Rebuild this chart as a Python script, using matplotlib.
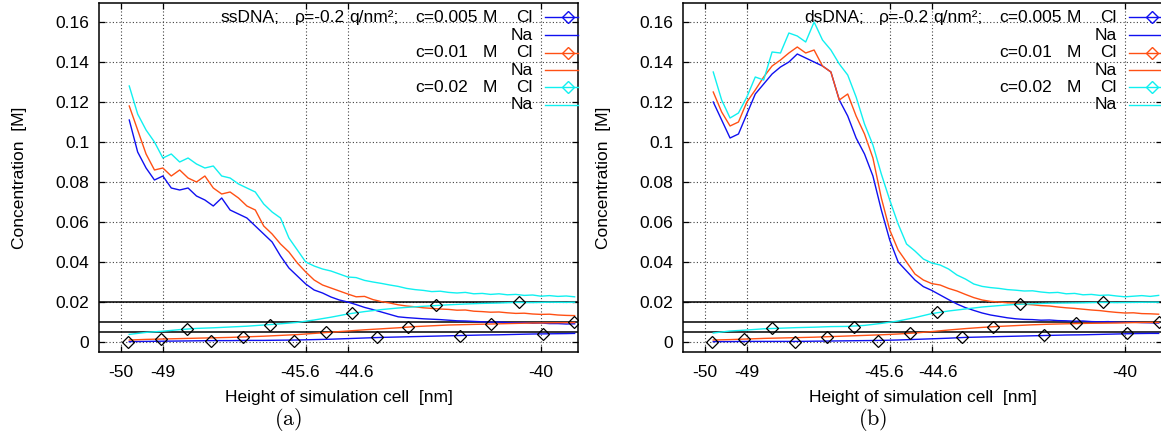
import numpy as np
import matplotlib.pyplot as plt
from matplotlib.transforms import ScaledTranslation

plt.rcParams['font.family'] = ['Liberation Sans', 'DejaVu Sans']
plt.rcParams['mathtext.fontset'] = 'cm'

# sampling heights of the Na profiles [nm]
x_na = np.round(np.arange(-49.8, -39.15, 0.2), 2)
# coarser sampling of the Cl profiles [nm]
x_cl = [-49.8, -49.4, -49.0, -48.6, -48.2, -47.8, -47.4, -47.0, -46.6, -46.2,
        -45.8, -45.4, -45.0, -44.6, -44.2, -43.8, -43.4, -43.0, -42.6, -42.2,
        -41.8, -41.4, -41.0, -40.6, -40.2, -39.8, -39.4, -39.2]

concs = ['0.005', '0.01', '0.02']
bulk = [0.005, 0.01, 0.02]
xticks = [-50, -49, -45.6, -44.6, -40]
yticks = [0, 0.02, 0.04, 0.06, 0.08, 0.1, 0.12, 0.14, 0.16]

# ---- ssDNA ----
ss_na_005 = [0.111, 0.095, 0.087, 0.081, 0.083, 0.077, 0.076, 0.077, 0.073, 0.071,
             0.068, 0.072, 0.066, 0.064, 0.062, 0.058, 0.054, 0.050, 0.043, 0.037,
             0.033, 0.029, 0.026, 0.0245, 0.0225, 0.021, 0.0200, 0.0187, 0.0173, 0.0162,
             0.0150, 0.0138, 0.0126, 0.0122, 0.0119, 0.0116, 0.0114, 0.0112, 0.0109, 0.0106,
             0.0105, 0.0103, 0.0101, 0.0099, 0.0100, 0.0097, 0.0096, 0.0097, 0.0094, 0.0095,
             0.0092, 0.0092, 0.0090, 0.0091]
ss_na_01 = [0.118, 0.106, 0.094, 0.086, 0.087, 0.083, 0.086, 0.082, 0.080, 0.083,
            0.077, 0.074, 0.075, 0.072, 0.068, 0.066, 0.058, 0.054, 0.049, 0.045,
            0.0395, 0.035, 0.031, 0.0285, 0.027, 0.0255, 0.024, 0.0226, 0.0228, 0.0212,
            0.0202, 0.0195, 0.0186, 0.0180, 0.0176, 0.0171, 0.0168, 0.0165, 0.0163, 0.0159,
            0.0160, 0.0154, 0.0152, 0.0149, 0.0150, 0.0146, 0.0143, 0.0144, 0.0140, 0.0138,
            0.0139, 0.0135, 0.0133, 0.0132]
ss_na_02 = [0.128, 0.114, 0.106, 0.100, 0.092, 0.094, 0.090, 0.092, 0.089, 0.087,
            0.088, 0.083, 0.082, 0.079, 0.077, 0.075, 0.069, 0.065, 0.062, 0.052,
            0.046, 0.040, 0.038, 0.0365, 0.0355, 0.034, 0.0325, 0.0322, 0.0308, 0.0300,
            0.0293, 0.0285, 0.0278, 0.0268, 0.0262, 0.0258, 0.0252, 0.0254, 0.0248, 0.0245,
            0.0248, 0.0241, 0.0243, 0.0238, 0.0241, 0.0236, 0.0238, 0.0233, 0.0235, 0.0229,
            0.0232, 0.0228, 0.0230, 0.0226]
ss_cl_005 = [0.0002, 0.0003, 0.0004, 0.0005, 0.0006, 0.0007, 0.0007, 0.0008, 0.0008, 0.0009,
             0.0010, 0.0012, 0.0014, 0.0017, 0.0020, 0.0023, 0.0025, 0.0027, 0.0029, 0.0031,
             0.0033, 0.0035, 0.0036, 0.0038, 0.0040, 0.0041, 0.0042, 0.0043]
ss_cl_01 = [0.0010, 0.0013, 0.0015, 0.0017, 0.0019, 0.0021, 0.0023, 0.0026, 0.0029, 0.0033,
            0.0037, 0.0043, 0.0049, 0.0055, 0.0061, 0.0066, 0.0071, 0.0077, 0.0081, 0.0085,
            0.0087, 0.0089, 0.0091, 0.0093, 0.0095, 0.0096, 0.0097, 0.0097]
ss_cl_02 = [0.0038, 0.0048, 0.0054, 0.0062, 0.0068, 0.0071, 0.0075, 0.0079, 0.0085, 0.0091,
            0.0098, 0.0110, 0.0124, 0.0140, 0.0152, 0.0162, 0.0170, 0.0176, 0.0181, 0.0186,
            0.0190, 0.0193, 0.0195, 0.0198, 0.0197, 0.0199, 0.0198, 0.0199]
ss_mk_x = [[-49.84, -47.86, -45.88, -43.9, -41.94, -39.96],
           [-49.05, -47.1, -45.12, -43.16, -41.2, -39.21],
           [-48.43, -46.46, -44.5, -42.51, -40.53]]
ss_mk_y = [[0.0, 0.0007, 0.0007, 0.0023, 0.0032, 0.0040],
           [0.0015, 0.0025, 0.0048, 0.0077, 0.0090, 0.0098],
           [0.0065, 0.0087, 0.0143, 0.0183, 0.0200]]

# ---- dsDNA ----
ds_na_005 = [0.120, 0.111, 0.102, 0.104, 0.114, 0.124, 0.129, 0.134, 0.1375, 0.140,
             0.144, 0.142, 0.140, 0.138, 0.135, 0.121, 0.113, 0.102, 0.094, 0.083,
             0.066, 0.051, 0.040, 0.0355, 0.031, 0.0277, 0.0258, 0.0235, 0.0212, 0.0190,
             0.0172, 0.0158, 0.0145, 0.0135, 0.0128, 0.0121, 0.0116, 0.0113, 0.0112, 0.0109,
             0.0110, 0.0107, 0.0106, 0.0104, 0.0105, 0.0102, 0.0101, 0.0102, 0.0099, 0.0098,
             0.0099, 0.0097, 0.0096, 0.0095]
ds_na_01 = [0.125, 0.115, 0.108, 0.110, 0.120, 0.126, 0.1325, 0.138, 0.141, 0.1445,
            0.1475, 0.1445, 0.146, 0.138, 0.135, 0.121, 0.124, 0.113, 0.104, 0.092,
            0.072, 0.056, 0.046, 0.040, 0.034, 0.031, 0.0292, 0.0285, 0.0268, 0.0255,
            0.0238, 0.0222, 0.0210, 0.0203, 0.0200, 0.0196, 0.0195, 0.0189, 0.0186, 0.0182,
            0.0180, 0.0175, 0.0171, 0.0168, 0.0164, 0.0160, 0.0157, 0.0152, 0.0148, 0.0145,
            0.0146, 0.0142, 0.0141, 0.0139]
ds_na_02 = [0.135, 0.121, 0.112, 0.1145, 0.1225, 0.1325, 0.131, 0.145, 0.1445, 0.1545,
            0.153, 0.150, 0.160, 0.151, 0.146, 0.139, 0.1335, 0.1225, 0.109, 0.0985,
            0.084, 0.071, 0.059, 0.049, 0.0455, 0.0415, 0.0395, 0.0385, 0.0365, 0.0335,
            0.0315, 0.0290, 0.0278, 0.0272, 0.0268, 0.0262, 0.0259, 0.0255, 0.0256, 0.0250,
            0.0246, 0.0248, 0.0241, 0.0243, 0.0236, 0.0238, 0.0233, 0.0235, 0.0230, 0.0226,
            0.0229, 0.0232, 0.0228, 0.0233]
ds_cl_005 = [0.0002, 0.0002, 0.0003, 0.0003, 0.0003, 0.0003, 0.0004, 0.0005, 0.0006, 0.0007,
             0.0008, 0.0010, 0.0013, 0.0016, 0.0019, 0.0023, 0.0025, 0.0027, 0.0029, 0.0031,
             0.0033, 0.0035, 0.0036, 0.0038, 0.0040, 0.0042, 0.0043, 0.0043]
ds_cl_01 = [0.0010, 0.0012, 0.0015, 0.0018, 0.0020, 0.0022, 0.0024, 0.0027, 0.0030, 0.0033,
            0.0036, 0.0040, 0.0045, 0.0052, 0.0060, 0.0067, 0.0073, 0.0078, 0.0082, 0.0086,
            0.0089, 0.0091, 0.0093, 0.0094, 0.0095, 0.0097, 0.0098, 0.0098]
ds_cl_02 = [0.0045, 0.0055, 0.0060, 0.0066, 0.0069, 0.0072, 0.0074, 0.0077, 0.0078, 0.0083,
            0.0093, 0.0105, 0.0122, 0.0142, 0.0155, 0.0165, 0.0175, 0.0182, 0.0188, 0.0191,
            0.0194, 0.0195, 0.0196, 0.0198, 0.0197, 0.0198, 0.0199, 0.0199]
ds_mk_x = [[-49.83, -47.86, -45.89, -43.89, -41.93, -39.95],
           [-49.07, -47.1, -45.11, -43.14, -41.17, -39.2],
           [-48.4, -46.45, -44.48, -42.5, -40.52]]
ds_mk_y = [[0.0, 0.0002, 0.0007, 0.0023, 0.0035, 0.0043],
           [0.0015, 0.0027, 0.0043, 0.0077, 0.0093, 0.0098],
           [0.0068, 0.0077, 0.0148, 0.0190, 0.0198]]

colors = ['#1010f0', '#ff5014', '#10f0f0']
FS = 12.5


def draw_panel(ax, name, na, cl, mk_x, mk_y, tag):
    for b in bulk:
        ax.axhline(b, color='black', lw=1.1, zorder=2)
    for i in range(3):
        ax.plot(x_cl, cl[i], color=colors[i], lw=1.0, zorder=3)
        ax.plot(x_na, na[i], color=colors[i], lw=1.0, zorder=3)
    for i in range(3):
        ax.plot(mk_x[i], mk_y[i], ls='none', marker='D', ms=6, mfc='none',
                mec='black', mew=0.9, zorder=4)

    ax.set_xlim(-50.52, -39.12)
    ax.set_ylim(-0.005, 0.1695)
    ax.set_xticks(xticks)
    ax.set_xticklabels(['-50', '-49', '-45.6', '-44.6', '-40'])
    ax.set_yticks(yticks)
    ax.set_yticklabels(['0', '0.02', '0.04', '0.06', '0.08', '0.1', '0.12', '0.14', '0.16'])
    ax.tick_params(direction='in', length=4.5, width=0.9, top=True, right=True,
                   labelsize=FS)
    ax.tick_params(axis='x', pad=9)
    ax.tick_params(axis='y', pad=7)
    # the two close labels sit a little apart, as in the original
    labels = ax.get_xticklabels()
    labels[2].set_transform(labels[2].get_transform()
                            + ScaledTranslation(-6 / 100, 0, fig.dpi_scale_trans))
    labels[3].set_transform(labels[3].get_transform()
                            + ScaledTranslation(6 / 100, 0, fig.dpi_scale_trans))
    ax.grid(True, color='0.25', lw=0.8, ls=(0, (1, 2)))
    ax.set_axisbelow(True)
    for s in ax.spines.values():
        s.set_linewidth(1.1)

    ax.set_xlabel('Height of simulation cell  [nm]', fontsize=FS, va='center')
    ax.xaxis.set_label_coords(0.5, -0.129)
    ax.set_ylabel('Concentration  [M]', fontsize=FS, va='center', ha='center')
    ax.yaxis.set_label_coords(-0.165, 0.5)

    # key, gnuplot style
    rows = [0.9585, 0.908, 0.858, 0.808, 0.758, 0.708]
    tr = ax.transAxes
    ax.text(0.2526, rows[0], name + ';', transform=tr, fontsize=FS, va='center')
    ax.text(0.409, rows[0], 'ρ=-0.2', transform=tr, fontsize=FS, va='center')
    ax.text(0.522, rows[0], 'q/nm²;', transform=tr, fontsize=FS, va='center')
    for i in range(3):
        yc, yn = rows[2 * i], rows[2 * i + 1]
        ax.text(0.66, yc, 'c=' + concs[i], transform=tr, fontsize=FS, va='center')
        ax.text(0.80, yc, 'M', transform=tr, fontsize=FS, va='center')
        ax.text(0.906, yc, 'Cl', transform=tr, fontsize=FS, va='center', ha='right')
        ax.text(0.906, yn, 'Na', transform=tr, fontsize=FS, va='center', ha='right')
        ax.plot([0.931, 1.0], [yc, yc], color=colors[i], lw=1.0, transform=tr,
                clip_on=False, zorder=5)
        ax.plot([0.979], [yc], marker='D', ms=6.5, mfc='none', mec=colors[i],
                mew=1.0, transform=tr, clip_on=False, zorder=5)
        ax.plot([0.931, 1.0], [yn, yn], color=colors[i], lw=1.0, transform=tr,
                clip_on=False, zorder=5)

    pos = ax.get_position()
    fig.text(pos.x0 + pos.width * 0.5 - 50 / 1161, 1 - 419 / 436, r'$\mathrm{' + tag + '}$',
             fontsize=16, ha='center', va='center')


fig = plt.figure(figsize=(11.61, 4.36), dpi=100)
ax1 = fig.add_axes([99 / 1161, 84 / 436, 479 / 1161, 349 / 436])
ax2 = fig.add_axes([683 / 1161, 84 / 436, 479 / 1161, 349 / 436])

draw_panel(ax1, 'ssDNA', [ss_na_005, ss_na_01, ss_na_02],
           [ss_cl_005, ss_cl_01, ss_cl_02], ss_mk_x, ss_mk_y, '(a)')
draw_panel(ax2, 'dsDNA', [ds_na_005, ds_na_01, ds_na_02],
           [ds_cl_005, ds_cl_01, ds_cl_02], ds_mk_x, ds_mk_y, '(b)')

fig.savefig('out.png', dpi=100)
